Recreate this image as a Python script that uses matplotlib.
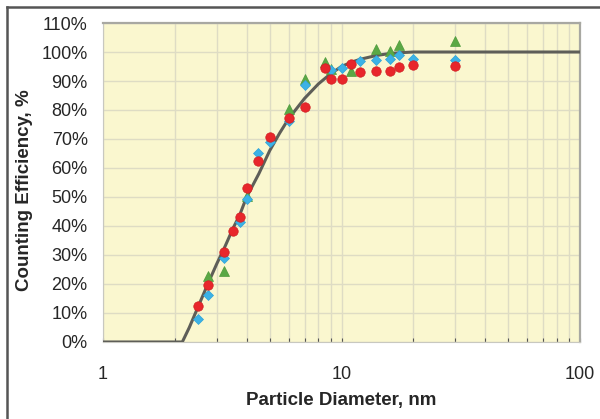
import matplotlib
matplotlib.use("Agg")
import matplotlib.pyplot as plt
from matplotlib.lines import Line2D
from matplotlib.ticker import FixedLocator, FuncFormatter, LogLocator, NullFormatter

plt.rcParams["font.family"] = ["Liberation Sans", "DejaVu Sans"]

# fitted counting-efficiency curve
curve_d = [1, 2.15, 2.3, 2.5, 2.75, 3, 3.25, 3.5, 3.75, 4, 4.5, 5, 5.5, 6, 7, 8, 9,
           10, 11, 12, 14, 16, 18, 20, 30, 100]
curve_eff = [0, 0, 5, 12, 20, 27, 33, 39, 44, 50, 58, 66, 72, 77, 84, 89, 92.5,
             95, 96.5, 97.5, 98.8, 99.5, 99.8, 100, 100, 100]

# measured points, three instruments
red_d = [2.5, 2.75, 3.23, 3.5, 3.75, 4.0, 4.48, 5.0, 6.0, 7.0, 8.5, 9.0, 10.0,
         11.0, 12.0, 14.0, 16.0, 17.5, 20.0, 30.0]
red_eff = [12.5, 19.5, 31.0, 38.4, 43.2, 53.2, 62.4, 70.8, 77.3, 81.1, 94.4, 90.7,
           90.7, 95.8, 93.2, 93.6, 93.4, 94.9, 95.4, 95.3]

blue_d = [2.5, 2.75, 3.23, 3.75, 4.0, 4.48, 5.0, 6.0, 7.0, 9.0, 10.0, 12.0, 14.0,
          16.0, 17.5, 20.0, 30.0]
blue_eff = [8.0, 16.3, 28.8, 41.5, 49.3, 65.2, 68.9, 76.3, 88.5, 93.8, 94.4, 96.9,
            97.2, 97.6, 99.0, 97.6, 97.2]

green_d = [2.75, 3.23, 4.0, 6.0, 7.0, 8.5, 9.0, 11.0, 14.0, 16.0, 17.5, 30.0]
green_eff = [22.7, 24.6, 50.5, 80.3, 90.8, 96.4, 94.3, 93.4, 100.9, 100.4, 102.4, 103.9]

y_ticks = list(range(0, 111, 10))

fig = plt.figure(figsize=(6.0, 4.19), dpi=100)
ax = fig.add_axes([0.1717, 0.1838, 0.795, 0.7613])
ax.set_facecolor("#faf7cf")

ax.plot(curve_d, curve_eff, color="#5e5e58", lw=2.2, zorder=3)
ax.plot(green_d, green_eff, ls="none", marker="^", ms=7, color="#5aa845",
        mec="#4e9a3c", mew=0.5, zorder=4)
ax.plot(blue_d, blue_eff, ls="none", marker="D", ms=5.4, color="#3cb2e6",
        mec="#2fa3d8", mew=0.5, zorder=5)
ax.plot(red_d, red_eff, ls="none", marker="o", ms=6.8, color="#e8262b",
        mec="#d01e22", mew=0.5, zorder=6)

ax.set_xscale("log")
ax.set_xlim(1, 100)
ax.set_ylim(0, 110)
ax.xaxis.set_major_locator(FixedLocator([1, 10, 100]))
ax.xaxis.set_major_formatter(FuncFormatter(lambda v, p: f"{v:g}"))
ax.xaxis.set_minor_locator(LogLocator(base=10, subs=range(2, 10)))
ax.xaxis.set_minor_formatter(NullFormatter())
ax.set_yticks(y_ticks)
ax.set_yticklabels([f"{v}%" for v in y_ticks])

ax.grid(True, which="both", axis="x", color="#dedcc4", lw=1.0, zorder=0)
ax.grid(True, which="major", axis="y", color="#dedcc4", lw=1.0, zorder=0)
ax.set_axisbelow(True)

ax.tick_params(axis="x", which="both", direction="in", length=3, width=0.8,
               color="#555555", labelsize=13, labelcolor="#262626", pad=17)
ax.tick_params(axis="y", length=0, labelsize=13, labelcolor="#262626", pad=11)

for side in ["left", "bottom"]:
    ax.spines[side].set_color("#c8c8c0")
    ax.spines[side].set_linewidth(0.8)
for side in ["top", "right"]:
    ax.spines[side].set_color("#a8a8a2")
    ax.spines[side].set_linewidth(1.6)

ax.set_xlabel("Particle Diameter, nm", fontsize=13.5, fontweight="bold",
              color="#262626", labelpad=7)
ax.set_ylabel("Counting Efficiency, %", fontsize=13.5, fontweight="bold",
              color="#262626")
ax.yaxis.set_label_coords(-0.147, 0.476)

# outer frame (left and top edges visible)
fig.add_artist(Line2D([0.012, 0.012], [0.0, 0.983], transform=fig.transFigure,
                      color="#555555", lw=1.8))
fig.add_artist(Line2D([0.012, 1.0], [0.983, 0.983], transform=fig.transFigure,
                      color="#555555", lw=1.8))

fig.savefig("out.png", dpi=100)
